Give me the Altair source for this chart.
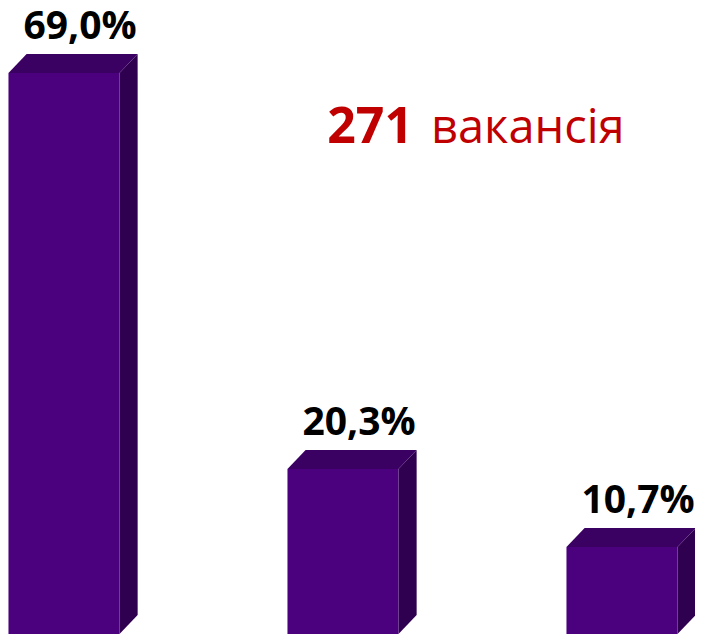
import altair as alt
import pandas as pd

# ---- data ----
categories = ["A", "B", "C"]
values = [69.0, 20.3, 10.7]
total_vacancies = 271
total_word = "вакансія"

# ---- style / geometry constants ----
FRONT = "#4B007E"
TOP = "#3A0062"
SIDE = "#2F004F"
HALF_W = 0.199     # half of front width, in category units
DX = 0.065         # 3-D depth, x (category units)
DY = 2.34          # 3-D depth, y (value units)
W, H = 687, 626

labels = [f"{v:.1f}".replace(".", ",") + "%" for v in values]
bars = pd.DataFrame({"idx": list(range(len(values))), "cat": categories,
                     "value": values, "label": labels})

side_rows, top_rows = [], []
for i, v in enumerate(values):
    xr = i + HALF_W
    xl = i - HALF_W
    side_rows += [{"bar": i, "x": xr, "y": v, "y2": 0},
                  {"bar": i, "x": xr + DX, "y": v + DY, "y2": DY}]
    top_rows += [{"bar": i, "y": v, "x": xl, "x2": xr},
                 {"bar": i, "y": v + DY, "x": xl + DX, "x2": xr + DX}]
side_df = pd.DataFrame(side_rows)
top_df = pd.DataFrame(top_rows)

xs = alt.Scale(domain=[-0.2007, 2.2617], nice=False, zero=False)
ys = alt.Scale(domain=[0, 77.0], nice=False, zero=False)

front = alt.Chart(bars).transform_calculate(
    xl=f"datum.idx - {HALF_W}", xr=f"datum.idx + {HALF_W}"
).mark_rect(color=FRONT).encode(
    x=alt.X("xl:Q", scale=xs, axis=None),
    x2="xr:Q",
    y=alt.Y("value:Q", scale=ys, axis=None),
    y2=alt.datum(0),
)

side = alt.Chart(side_df).mark_area(color=SIDE, orient="vertical").encode(
    x=alt.X("x:Q", scale=xs, axis=None),
    y=alt.Y("y:Q", scale=ys, axis=None),
    y2="y2:Q",
    detail="bar:N",
)

top = alt.Chart(top_df).mark_area(color=TOP, orient="horizontal").encode(
    y=alt.Y("y:Q", scale=ys, axis=None),
    x=alt.X("x:Q", scale=xs, axis=None),
    x2="x2:Q",
    detail="bar:N",
)

text = alt.Chart(bars).mark_text(
    font="Open Sans", fontWeight="bold", fontSize=39, color="black",
    baseline="alphabetic", align="center", dx=16, dy=-34,
).encode(
    x=alt.X("idx:Q", scale=xs, axis=None),
    y=alt.Y("value:Q", scale=ys, axis=None),
    text="label:N",
)

num = alt.Chart(pd.DataFrame({"t": [str(total_vacancies)]})).mark_text(
    font="Open Sans", fontWeight="bold", fontSize=50, color="#C00000",
    align="right", baseline="alphabetic",
).encode(x=alt.value(405), y=alt.value(135), text="t:N")

word = alt.Chart(pd.DataFrame({"t": [total_word]})).mark_text(
    font="Open Sans", fontWeight="normal", fontSize=47, color="#C00000",
    align="left", baseline="alphabetic",
).encode(x=alt.value(423), y=alt.value(135), text="t:N")

chart = alt.layer(side, top, front, text, num, word).properties(
    width=W, height=H, padding=0, autosize=alt.AutoSizeParams(type="none"),
).configure_view(stroke=None)

chart.save("out.html", embed_options={"renderer": "svg", "actions": False})
